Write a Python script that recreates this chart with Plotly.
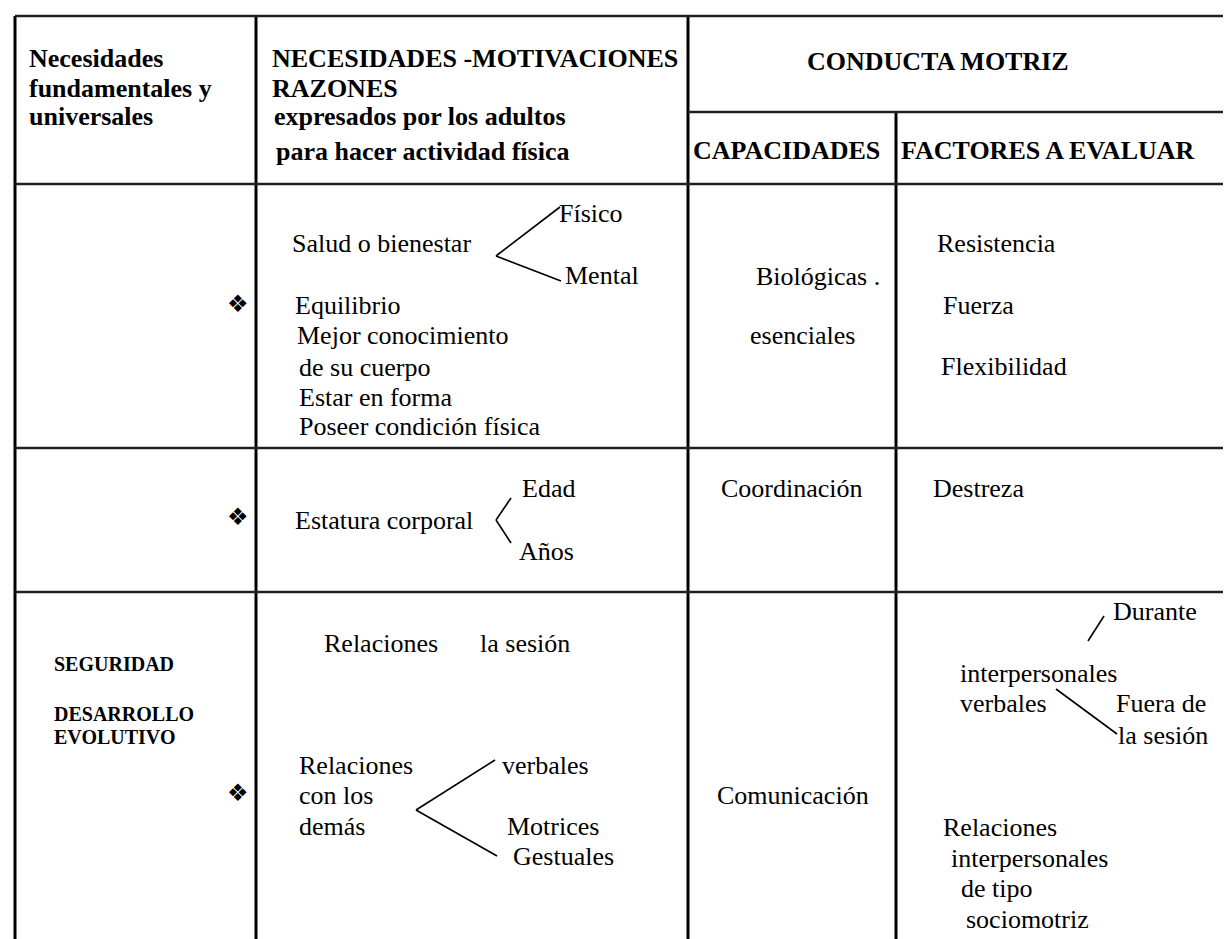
import plotly.graph_objects as go

W, H = 1231, 939

# ---------------- data (texts) ----------------
col1_header = ["Necesidades", "fundamentales y", "universales"]
col2_header = ["NECESIDADES -MOTIVACIONES", "RAZONES",
               "expresados por los adultos", "para hacer actividad física"]
group_header = "CONDUCTA MOTRIZ"
sub_headers = ["CAPACIDADES", "FACTORES A EVALUAR"]

row1_main = "Salud o bienestar"
row1_branches = ["Físico", "Mental"]
row1_list = ["Equilibrio", "Mejor conocimiento", "de su cuerpo",
             "Estar en forma", "Poseer condición física"]
row1_capacity = ["Biológicas .", "esenciales"]
row1_factors = ["Resistencia", "Fuerza", "Flexibilidad"]

row2_main = "Estatura corporal"
row2_branches = ["Edad", "Años"]
row2_capacity = ["Coordinación"]
row2_factors = ["Destreza"]

row3_needs = ["SEGURIDAD", "DESARROLLO", "EVOLUTIVO"]
row3_top = ["Relaciones", "la sesión"]
row3_main = ["Relaciones", "con los", "demás"]
row3_branches = ["verbales", "Motrices", "Gestuales"]
row3_capacity = ["Comunicación"]
row3_factor_top = ["Durante"]
row3_factor_mid = ["interpersonales", "verbales"]
row3_factor_side = ["Fuera de", "la sesión"]
row3_factor_low = ["Relaciones", "interpersonales", "de tipo", "sociomotriz"]

bullet = "\u2756"

# ---------------- layout (positions, px) ----------------
X_LEFT, X_C1, X_C2, X_C3, X_RIGHT = 7, 248, 680, 888, 1231
Y_TOP, Y_SUB, Y_HEAD, Y_R1, Y_R2, Y_BOT = 8, 104, 176, 440, 584, 939

SERIF = "Liberation Serif, Times New Roman, serif"
FS = 26

fig = go.Figure()

def seg_trace(segs, width, color="black"):
    xs, ys = [], []
    for (x0, y0, x1, y1) in segs:
        xs += [x0, x1, None]
        ys += [y0, y1, None]
    fig.add_trace(go.Scatter(x=xs, y=ys, mode="lines",
                             line=dict(color=color, width=width),
                             hoverinfo="skip", showlegend=False))

# vertical grid lines
seg_trace([(X_LEFT, Y_TOP, X_LEFT, Y_BOT),
           (X_C1, Y_TOP, X_C1, Y_BOT),
           (X_C2, Y_TOP, X_C2, Y_BOT),
           (X_C3, Y_SUB, X_C3, Y_BOT)], 3)
# horizontal grid lines
seg_trace([(X_LEFT, Y_TOP, X_RIGHT, Y_TOP),
           (X_C2, Y_SUB, X_RIGHT, Y_SUB),
           (X_LEFT, Y_HEAD, X_RIGHT, Y_HEAD),
           (X_LEFT, Y_R1, X_RIGHT, Y_R1),
           (X_LEFT, Y_R2, X_RIGHT, Y_R2)], 2.5, "#222")

# branch connectors
seg_trace([(488, 248, 552, 199), (488, 248, 553, 273),
           (503, 490, 488, 512), (488, 512, 503, 535),
           (408, 802, 487, 752), (408, 802, 489, 848),
           (1096, 608, 1080, 633), (1048, 681, 1109, 726)], 1.6)

annots = []

def txt(t, x, y, size=FS, bold=False, family=SERIF, anchor="left"):
    annots.append(dict(text=f"<b>{t}</b>" if bold else t, x=x, y=y,
                       xref="x", yref="y", xanchor=anchor, yanchor="middle",
                       showarrow=False, borderpad=0,
                       font=dict(family=family, size=size, color="black")))

# headers
for t, y in zip(col1_header, [50, 80, 108]):
    txt(t, 20, y, bold=True)
for t, x, y in zip(col2_header, [263, 263, 265, 267], [50, 80, 108, 143]):
    txt(t, x, y, bold=True)
txt(group_header, 930, 53, bold=True, anchor="center")
txt(sub_headers[0], 684, 142, bold=True)
txt(sub_headers[1], 892, 142, bold=True)

# row 1
BSZ = 24
txt(bullet, 230, 296, size=BSZ, family="DejaVu Sans", anchor="center")
txt(row1_main, 283, 235)
txt(row1_branches[0], 550, 205)
txt(row1_branches[1], 556, 267)
for t, x, y in zip(row1_list, [286, 288, 290, 290, 290], [297, 327, 359, 389, 418]):
    txt(t, x, y)
txt(row1_capacity[0], 747, 268)
txt(row1_capacity[1], 741, 327)
for t, x, y in zip(row1_factors, [928, 934, 932], [235, 297, 358]):
    txt(t, x, y)

# row 2
txt(bullet, 230, 509, size=BSZ, family="DejaVu Sans", anchor="center")
txt(row2_main, 286, 512)
txt(row2_branches[0], 513, 480)
txt(row2_branches[1], 510, 543)
txt(row2_capacity[0], 712, 480)
txt(row2_factors[0], 924, 480)

# row 3
for t, y in zip(row3_needs, [656, 706, 729]):
    txt(t, 45, y, size=20, bold=True)
txt(row3_top[0], 315, 635)
txt(row3_top[1], 471, 635)
txt(bullet, 230, 785, size=BSZ, family="DejaVu Sans", anchor="center")
for t, y in zip(row3_main, [757, 787, 818]):
    txt(t, 290, y)
for t, x, y in zip(row3_branches, [493, 498, 504], [757, 818, 848]):
    txt(t, x, y)
txt(row3_capacity[0], 708, 787)
txt(row3_factor_top[0], 1104, 603)
for t, y in zip(row3_factor_mid, [665, 695]):
    txt(t, 951, y)
txt(row3_factor_side[0], 1107, 695)
txt(row3_factor_side[1], 1109, 727)
for t, x, y in zip(row3_factor_low, [934, 942, 952, 957], [819, 850, 880, 911]):
    txt(t, x, y)

fig.update_layout(
    width=W, height=H,
    margin=dict(l=0, r=0, t=0, b=0),
    paper_bgcolor="white", plot_bgcolor="white",
    xaxis=dict(range=[0, W], visible=False, fixedrange=True),
    yaxis=dict(range=[H, 0], visible=False, fixedrange=True),
    annotations=annots,
    showlegend=False,
)

fig.write_html("out.html", config={"displayModeBar": False})
